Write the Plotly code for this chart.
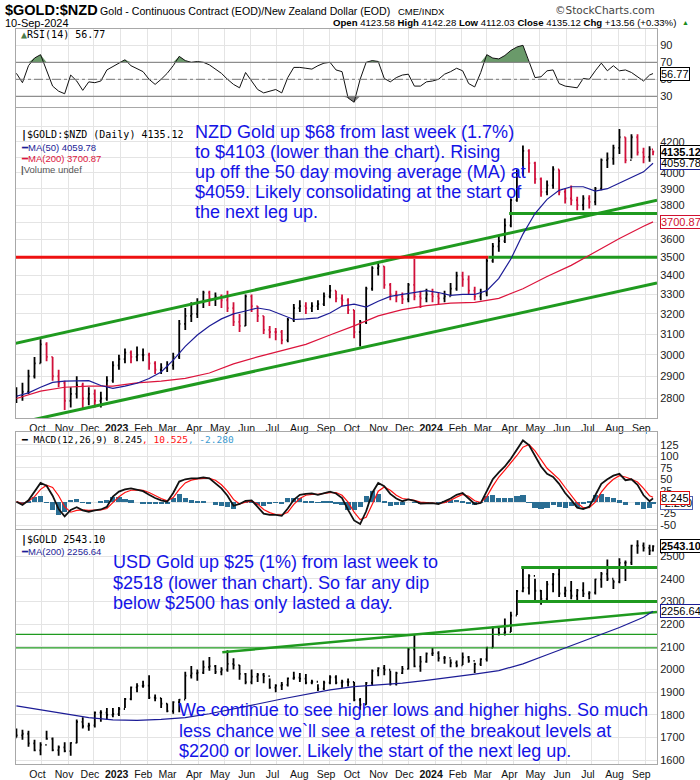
import numpy as np
import pandas as pd
import plotly.graph_objects as go

# ---------------- DATA ----------------
weeks = list(pd.date_range("2022-09-02", periods=106, freq="7D").strftime("%Y-%m-%d")) + ["2024-09-10"]

nzd_close = [2810, 2830, 2900, 2960, 3050, 2990, 2900, 2870, 2790, 2820,
             2860, 2800, 2820, 2790, 2800, 2880, 2950, 2980, 3010, 2990,
             3000, 3000, 2960, 2930, 2940, 2950, 2990, 3150, 3190, 3200,
             3260, 3310, 3280, 3290, 3270, 3230, 3160, 3140, 3290, 3240,
             3190, 3120, 3110, 3110, 3070, 3170, 3230, 3240, 3230, 3240,
             3250, 3290, 3320, 3280, 3270, 3220, 3110, 3160, 3330, 3440,
             3450, 3350, 3300, 3290, 3275, 3350, 3290, 3280, 3300, 3290,
             3280, 3290, 3330, 3400, 3380, 3320, 3290, 3310, 3480, 3560,
             3590, 3680, 3830, 4000, 4140, 4060, 3960, 3880, 3920, 4020,
             3880, 3840, 3830, 3800, 3840, 3820, 3900, 4080, 4090, 4160,
             4230, 4080, 4230, 4130, 4100, 4150, 4135.12]
nzd_high = [2850, 2870, 2930, 2990, 3075, 3060, 2990, 2930, 2880, 2850,
            2900, 2870, 2850, 2840, 2830, 2900, 2970, 3000, 3030, 3020,
            3040, 3030, 3010, 2970, 2960, 2970, 3010, 3170, 3230, 3260,
            3280, 3320, 3320, 3310, 3300, 3320, 3260, 3200, 3300, 3300,
            3240, 3190, 3140, 3130, 3120, 3180, 3250, 3270, 3260, 3260,
            3270, 3310, 3350, 3320, 3300, 3280, 3220, 3170, 3340, 3450,
            3470, 3450, 3360, 3320, 3310, 3360, 3490, 3320, 3330, 3330,
            3310, 3320, 3360, 3420, 3420, 3400, 3340, 3330, 3500, 3580,
            3620, 3720, 3840, 4020, 4175, 4150, 4070, 3970, 3950, 4040,
            4020, 3900, 3920, 3850, 3860, 3860, 3910, 4090, 4130, 4180,
            4285, 4230, 4250, 4250, 4160, 4170, 4142.28]
nzd_low = [2780, 2790, 2820, 2890, 2960, 2970, 2880, 2850, 2750, 2760,
           2800, 2750, 2770, 2760, 2760, 2790, 2870, 2930, 2960, 2960,
           2970, 2970, 2930, 2910, 2910, 2920, 2930, 2980, 3120, 3160,
           3180, 3230, 3240, 3240, 3230, 3210, 3140, 3110, 3140, 3210,
           3160, 3100, 3080, 3070, 3050, 3060, 3160, 3210, 3200, 3210,
           3220, 3240, 3280, 3260, 3240, 3200, 3080, 3040, 3150, 3320,
           3400, 3330, 3270, 3260, 3250, 3260, 3270, 3230, 3260, 3260,
           3250, 3260, 3290, 3320, 3340, 3300, 3270, 3270, 3290, 3470,
           3530, 3580, 3670, 3820, 3980, 4000, 3930, 3850, 3860, 3900,
           3860, 3810, 3800, 3770, 3770, 3780, 3800, 3890, 4030, 4050,
           4120, 4060, 4090, 4110, 4060, 4070, 4112.03]

ma_dates_2w = weeks[0:106:2] + ["2024-09-10"]
nzd_ma50 = [2810, 2825, 2850, 2872, 2878, 2880, 2880, 2858, 2845, 2855,
            2868, 2890, 2920, 2975, 3040, 3095, 3140, 3175, 3200, 3215,
            3230, 3220, 3195, 3172, 3175, 3180, 3205, 3240, 3250, 3235,
            3265, 3290, 3300, 3310, 3320, 3310, 3295, 3300, 3300, 3320,
            3385, 3490, 3630, 3750, 3835, 3890, 3912, 3912, 3885, 3900,
            3935, 3968, 4005, 4059.78]

ma_dates_4w = weeks[0:106:4] + ["2024-09-10"]
nzd_ma200 = [2800, 2833, 2850, 2855, 2855, 2870, 2878, 2890, 2915, 2957,
             2990, 3020, 3050, 3095, 3140, 3190, 3222, 3242, 3255, 3259,
             3280, 3330, 3395, 3455, 3530, 3605, 3675, 3700.87]

rsi14 = [57, 46, 66, 75, 79, 60, 42, 36, 33, 55,
         48, 37, 47, 46, 48, 61, 65, 69, 73, 66,
         62, 59, 50, 44, 50, 57, 66, 77, 72, 70,
         71, 70, 67, 62, 57, 50, 44, 40, 58, 48,
         38, 34, 36, 38, 34, 52, 64, 64, 63, 62,
         66, 69, 70, 61, 59, 28, 23, 50, 70, 72,
         71, 51, 47, 52, 55, 56, 42, 42, 47, 48,
         50, 56, 59, 63, 60, 45, 41, 58, 79, 75,
         74, 78, 84, 88, 90, 70, 52, 53, 60, 61,
         45, 42, 41, 40, 51, 50, 60, 69, 60, 66,
         60, 61, 58, 53, 48, 55, 56.77]

macd_line = [1, -6, 4, 24, 42, 36, 14, -15, -31, -17,
             -11, -18, -21, -18, -16, -10, 12, 23, 28, 30,
             27, 24, 16, 9, 4, 1, 20, 45, 50, 52,
             52, 54, 52, 42, 30, 14, -8, -4, 3, 4,
             -10, -25, -28, -28, -30, -14, 5, 16, 18, 19,
             16, 20, 23, 19, 9, -17, -40, -48, -20, 20,
             42, 35, 18, 8, 2, 6, 3, -3, -2, -2,
             -4, 2, 8, 16, 20, 8, -4, -2, 25, 50,
             65, 78, 95, 115, 135, 125, 100, 78, 62, 55,
             40, 20, 5, -12, -15, -10, 15, 40, 50, 58,
             62, 48, 50, 38, 15, 2, 8.245]
macd_signal = [1, -3, 2, 12, 28, 37, 32, 14, -10, -22,
               -18, -17, -18, -18, -17, -14, 0, 12, 21, 26,
               27, 26, 21, 14, 8, 3, 10, 28, 42, 48,
               51, 52, 52, 48, 38, 24, 6, -4, 0, 2,
               -4, -16, -23, -27, -28, -22, -5, 8, 15, 17,
               17, 19, 21, 21, 15, 0, -22, -38, -33, -5,
               24, 33, 26, 15, 8, 6, 4, 0, -1, -2,
               -3, -1, 4, 11, 17, 13, 3, -1, 12, 35,
               55, 70, 85, 102, 120, 126, 112, 92, 74, 62,
               50, 32, 14, -2, -12, -12, 0, 22, 38, 50,
               58, 55, 50, 44, 30, 14, 10.525]

usd_close = [1710, 1717, 1675, 1644, 1668, 1695, 1645, 1657, 1640, 1677,
             1769, 1750, 1754, 1810, 1810, 1800, 1804, 1826, 1870, 1921,
             1928, 1929, 1876, 1874, 1850, 1817, 1856, 1867, 1973, 1983,
             1986, 2011, 2015, 1990, 1999, 2025, 2019, 1981, 1944, 1969,
             1977, 1971, 1920, 1929, 1932, 1961, 1964, 1960, 1942, 1946,
             1916, 1942, 1966, 1942, 1946, 1945, 1866, 1845, 1941, 1994,
             2006, 1999, 1937, 1984, 2003, 2089, 2014, 2035, 2070, 2072,
             2050, 2051, 2029, 2018, 2054, 2038, 2024, 2046, 2096, 2185,
             2161, 2165, 2238, 2345, 2360, 2413, 2347, 2311, 2375, 2419,
             2335, 2348, 2325, 2349, 2334, 2339, 2397, 2421, 2400, 2386,
             2470, 2471, 2546, 2546, 2536, 2524, 2543.10]
usd_high = [1740, 1735, 1730, 1690, 1680, 1730, 1700, 1665, 1680, 1680,
            1780, 1790, 1765, 1815, 1820, 1830, 1830, 1835, 1875, 1925,
            1940, 1950, 1975, 1890, 1875, 1850, 1860, 1870, 1990, 2015,
            2000, 2040, 2055, 2020, 2010, 2085, 2050, 2020, 1985, 2000,
            1985, 1985, 1960, 1935, 1945, 1965, 1990, 1985, 1980, 1955,
            1935, 1950, 1975, 1975, 1955, 1960, 1945, 1875, 1945, 2000,
            2010, 2020, 1995, 1990, 2015, 2095, 2152, 2060, 2075, 2095,
            2080, 2060, 2045, 2040, 2075, 2060, 2030, 2050, 2100, 2190,
            2185, 2225, 2255, 2350, 2448, 2420, 2400, 2350, 2390, 2425,
            2450, 2365, 2390, 2355, 2385, 2345, 2400, 2430, 2485, 2395,
            2490, 2480, 2550, 2570, 2560, 2550, 2548]
usd_low = [1700, 1690, 1660, 1640, 1622, 1690, 1640, 1620, 1635, 1620,
           1675, 1740, 1730, 1745, 1770, 1780, 1790, 1795, 1830, 1865,
           1900, 1920, 1870, 1860, 1830, 1812, 1805, 1812, 1870, 1960,
           1950, 1980, 1995, 1980, 1975, 1990, 2000, 1955, 1935, 1935,
           1945, 1940, 1915, 1900, 1910, 1925, 1955, 1945, 1935, 1935,
           1905, 1910, 1935, 1935, 1920, 1925, 1860, 1823, 1845, 1930,
           1970, 1975, 1930, 1930, 1980, 2000, 2010, 1990, 2030, 2060,
           2035, 2025, 2010, 2010, 2020, 2030, 1985, 2015, 2035, 2095,
           2150, 2150, 2165, 2240, 2340, 2330, 2300, 2285, 2300, 2340,
           2320, 2320, 2310, 2300, 2320, 2310, 2330, 2360, 2390, 2355,
           2380, 2390, 2460, 2510, 2520, 2505, 2520]
usd_ma200 = [1840, 1822, 1805, 1788, 1778, 1776, 1780, 1788, 1805, 1825,
             1848, 1870, 1890, 1910, 1925, 1932, 1940, 1952, 1965, 1980,
             1995, 2025, 2065, 2105, 2145, 2185, 2230, 2256.64]

# annotation lines drawn on the chart (date, value pairs)
nzd_upper_channel = (["2022-08-14", "2024-09-14 15:00"], [3038, 3830])
nzd_lower_channel = (["2022-08-14", "2024-09-14 15:00"], [2677, 3360])
nzd_red_3500 = (["2022-08-14", "2024-03-03"], [3500, 3500])
nzd_green_3500 = (["2024-03-03", "2024-09-14 15:00"], [3500, 3500])
nzd_green_3750 = (["2024-03-27", "2024-09-14 15:00"], [3750, 3750])
usd_green_2450 = (["2024-04-10", "2024-09-14 15:00"], [2450, 2450])
usd_green_2300 = (["2024-04-06", "2024-09-14 15:00"], [2300, 2300])
usd_green_2155 = (["2022-08-14", "2024-09-14 15:00"], [2155, 2155])
usd_green_2095 = (["2022-08-14", "2024-09-14 15:00"], [2095, 2095])
usd_rising = (["2023-04-29", "2024-09-14 15:00"], [2076, 2253])

month_ticks = list(pd.date_range("2022-10-01", "2024-09-01", freq="MS").strftime("%Y-%m-%d"))
month_labels = ["Oct", "Nov", "Dec", "<b>2023</b>", "Feb", "Mar", "Apr", "May", "Jun", "Jul", "Aug", "Sep",
                "Oct", "Nov", "Dec", "<b>2024</b>", "Feb", "Mar", "Apr", "May", "Jun", "Jul", "Aug", "Sep"]

rsi_ticks = [30, 50, 70, 90]
nzd_ticks = list(range(2800, 4400, 100))
nzd_tick_text = ["" if v in (3700, 4100, 4300) else str(v) for v in nzd_ticks]
macd_ticks = [-50, -25, 0, 25, 50, 75, 100, 125]
macd_tick_text = ["" if v == 0 else str(v) for v in macd_ticks]
usd_ticks = list(range(1600, 2600, 100))

nzd_note = ["NZD Gold up $68 from last week (1.7%)",
            "to $4103 (lower than the chart). Rising",
            "up off the 50 day moving average (MA) at",
            "$4059. Likely consolidating at the start of",
            "the next leg up."]
usd_note = ["USD Gold up $25 (1%) from last week to",
            "$2518 (lower than chart). So far any dip",
            "below $2500 has only lasted a day."]
usd_note2 = ["We continue to see higher lows and higher highs. So much",
             "less chance we`ll see a retest of the breakout levels at",
             "$2200 or lower. Likely the start of the next leg up."]

# ---------------- FIGURE ----------------
W, H = 700, 780
ML, MR, MT, MB = 16, 43, 0, 16
PH = H - MT - MB
PW = W - ML - MR
X_RANGE = ["2022-09-01 12:00", "2024-09-14 15:00"]

GRID = "#e4e4e4"
BORDER = "#a8a8a8"
MONO = "DejaVu Sans Mono, monospace"
SANS = "Liberation Sans, Arial, sans-serif"
TXT_BLUE = "#1414e6"
GREEN = "#1f9a1f"
RED_BAR = "#d0103a"
MA_BLUE = "#1c1c96"
MA_RED = "#dc143c"


def py(p):
    return (H - MB - p) / PH


def px(p):
    return (p - ML) / PW


def dom(top, bot):
    return [py(bot), py(top)]


n = len(weeks)
nzd_open = [2800] + nzd_close[:-1]
usd_open = [1700] + usd_close[:-1]
rsi_arr = np.array(rsi14, dtype=float)
macd_hist = (np.array(macd_line) - np.array(macd_signal)).tolist()

fig = go.Figure()

# RSI panel
fig.add_trace(go.Scatter(x=weeks, y=[70] * n, mode="lines", line=dict(width=0), xaxis="x", yaxis="y", hoverinfo="skip"))
fig.add_trace(go.Scatter(x=weeks, y=np.maximum(rsi_arr, 70), mode="lines", line=dict(width=0),
                         fill="tonexty", fillcolor="#6a9a6a", xaxis="x", yaxis="y", hoverinfo="skip"))
fig.add_trace(go.Scatter(x=weeks, y=[30] * n, mode="lines", line=dict(width=0), xaxis="x", yaxis="y", hoverinfo="skip"))
fig.add_trace(go.Scatter(x=weeks, y=np.minimum(rsi_arr, 30), mode="lines", line=dict(width=0),
                         fill="tonexty", fillcolor="#808080", xaxis="x", yaxis="y", hoverinfo="skip"))
fig.add_trace(go.Scatter(x=weeks, y=rsi14, mode="lines", line=dict(color="#111", width=1), xaxis="x", yaxis="y"))

# Main NZD panel
for (xs, ys), col, wd in [(nzd_upper_channel, GREEN, 3), (nzd_lower_channel, GREEN, 3),
                          (nzd_red_3500, "#ee1111", 3), (nzd_green_3500, GREEN, 3),
                          (nzd_green_3750, GREEN, 3)]:
    fig.add_trace(go.Scatter(x=xs, y=ys, mode="lines", line=dict(color=col, width=wd), xaxis="x2", yaxis="y2"))
fig.add_trace(go.Scatter(x=ma_dates_4w, y=nzd_ma200, mode="lines", line=dict(color=MA_RED, width=1.2), xaxis="x2", yaxis="y2"))
fig.add_trace(go.Scatter(x=ma_dates_2w, y=nzd_ma50, mode="lines", line=dict(color=MA_BLUE, width=1.2), xaxis="x2", yaxis="y2"))
fig.add_trace(go.Ohlc(x=weeks, open=nzd_open, high=nzd_high, low=nzd_low, close=nzd_close,
                      increasing=dict(line=dict(color="#000000", width=1.8)),
                      decreasing=dict(line=dict(color=RED_BAR, width=1.8)),
                      tickwidth=0.35, xaxis="x2", yaxis="y2"))

# MACD panel
fig.add_trace(go.Bar(x=weeks, y=macd_hist, marker=dict(color="#2a6e94", line=dict(width=0)),
                     width=6 * 86400000, xaxis="x3", yaxis="y3"))
fig.add_trace(go.Scatter(x=weeks, y=macd_signal, mode="lines", line=dict(color="#ff1010", width=1.2), xaxis="x3", yaxis="y3"))
fig.add_trace(go.Scatter(x=weeks, y=macd_line, mode="lines", line=dict(color="#111", width=1.8), xaxis="x3", yaxis="y3"))

# USD panel
for (xs, ys), col, wd in [(usd_green_2450, GREEN, 3), (usd_green_2300, GREEN, 3),
                          (usd_green_2155, GREEN, 1.2), (usd_green_2095, GREEN, 1.2),
                          (usd_rising, GREEN, 2.5)]:
    fig.add_trace(go.Scatter(x=xs, y=ys, mode="lines", line=dict(color=col, width=wd), xaxis="x4", yaxis="y4"))
fig.add_trace(go.Scatter(x=ma_dates_4w, y=usd_ma200, mode="lines", line=dict(color=MA_BLUE, width=1.2), xaxis="x4", yaxis="y4"))
fig.add_trace(go.Ohlc(x=weeks, open=usd_open, high=usd_high, low=usd_low, close=usd_close,
                      increasing=dict(line=dict(color="#000000", width=1.8)),
                      decreasing=dict(line=dict(color="#000000", width=1.8)),
                      tickwidth=0.35, xaxis="x4", yaxis="y4"))

xcommon = dict(type="date", range=X_RANGE, showgrid=True, gridcolor=GRID, gridwidth=1,
               tickvals=month_ticks, ticktext=month_labels, showline=True, mirror=True,
               linecolor=BORDER, linewidth=1, ticks="", zeroline=False,
               rangeslider=dict(visible=False), ticklabelshift=-4,
               tickfont=dict(family=SANS, size=10.5, color="#111"))
ycommon = dict(side="right", showgrid=True, gridcolor=GRID, gridwidth=1, showline=True, mirror=True,
               linecolor=BORDER, linewidth=1, ticks="", zeroline=False,
               tickfont=dict(family=SANS, size=11, color="#222"))

fig.update_layout(
    width=W, height=H, margin=dict(l=ML, r=MR, t=MT, b=MB),
    paper_bgcolor="white", plot_bgcolor="white", showlegend=False, bargap=0,
    xaxis=dict(xcommon, anchor="y", domain=[0, 1], showticklabels=False),
    xaxis2=dict(xcommon, anchor="y2", domain=[0, 1], matches="x", showticklabels=True),
    xaxis3=dict(xcommon, anchor="y3", domain=[0, 1], matches="x", showticklabels=False),
    xaxis4=dict(xcommon, anchor="y4", domain=[0, 1], matches="x", showticklabels=True),
    yaxis=dict(ycommon, anchor="x", domain=dom(29, 107), range=[17.4, 109.2], tickvals=rsi_ticks),
    yaxis2=dict(ycommon, anchor="x2", domain=dom(108, 418), type="log",
                range=[np.log10(2715), np.log10(4430)], tickvals=nzd_ticks, ticktext=nzd_tick_text),
    yaxis3=dict(ycommon, anchor="x3", domain=dom(432, 529), range=[-58.75, 153.4],
                tickvals=macd_ticks, ticktext=macd_tick_text),
    yaxis4=dict(ycommon, anchor="x4", domain=dom(530, 764), range=[1583.7, 2614.7],
                tickvals=usd_ticks),
)

# RSI reference levels
fig.add_shape(type="line", xref="x domain", x0=0, x1=1, yref="y", y0=70, y1=70, line=dict(color="#777", width=1))
fig.add_shape(type="line", xref="x domain", x0=0, x1=1, yref="y", y0=30, y1=30, line=dict(color="#777", width=1))
fig.add_shape(type="line", xref="x domain", x0=0, x1=1, yref="y", y0=50, y1=50, line=dict(color="#777", width=1, dash="dashdot"))

# ---------- text ----------
def ann(x, y, text, size, family=SANS, color="#000", xanchor="left", yanchor="middle", **kw):
    fig.add_annotation(xref="paper", yref="paper", x=px(x), y=py(y), text=text, showarrow=False,
                       xanchor=xanchor, yanchor=yanchor, align="left",
                       font=dict(family=family, size=size, color=color), **kw)


ann(3, 10, "<b>$GOLD:$NZD</b>", 14.5, SANS)
ann(98, 10.5, "Gold - Continuous Contract (EOD)/New Zealand Dollar (EOD)", 10.6, SANS)
ann(396, 11, "CME/INDX", 9.5, SANS)
ann(657, 10, "©StockCharts.com", 10.5, "DejaVu Sans", "#444", xanchor="right")
ann(3, 23, "10-Sep-2024", 11, SANS)
ann(678, 23, "<b>Open</b> 4123.58 <b>High</b> 4142.28 <b>Low</b> 4112.03 <b>Close</b> 4135.12 <b>Chg</b> +13.56 (+0.33%)",
    9.6, SANS, xanchor="right")
ann(680, 23, "▲", 7, SANS, "#1a8a1a")

# panel legends
ann(19, 35, "<span style='color:#4a7a4a'>▲</span>RSI(14) 56.77", 10, MONO)
ann(19, 135, "<b>|</b>$GOLD:$NZD (Daily) 4135.12", 10, MONO)
ann(19, 147, "<span style='color:#1c1c96'>━</span>MA(50) 4059.78", 9.5, SANS, MA_BLUE)
ann(19, 158, "<span style='color:#dc143c'>━</span>MA(200) 3700.87", 9.5, SANS, MA_RED)
ann(19, 169, "<b>|</b>Volume undef", 9.5, SANS, "#555")
ann(19, 439, "━ MACD(12,26,9) 8.245<span style='color:#ff1010'>, 10.525</span><span style='color:#3a9ad0'>, -2.280</span>", 9.5, MONO)
ann(19, 540, "<b>|</b>$GOLD 2543.10", 10, MONO)
ann(19, 551, "<span style='color:#1c1c96'>━</span>MA(200) 2256.64", 9.5, SANS, MA_BLUE)

# comment text blocks, one annotation per line (20 px line pitch)
for i, line in enumerate(nzd_note):
    ann(193, 132 + 20 * i, line, 18, SANS, TXT_BLUE)
for i, line in enumerate(usd_note):
    ann(111, 562 + 20.5 * i, line, 18, SANS, TXT_BLUE)
for i, line in enumerate(usd_note2):
    ann(177, 710 + 20.5 * i, line, 18, SANS, TXT_BLUE)

# value tags on the right axis
def tag(text, yval, yref, color, textcolor=None, bold=False):
    t = f"<b>{text}</b>" if bold else text
    fig.add_annotation(xref="paper", x=1, xanchor="left", xshift=3, yref=yref, y=yval, yanchor="middle",
                       text=t, showarrow=False, font=dict(family=SANS, size=11, color=textcolor or color),
                       bordercolor=color, borderwidth=1, borderpad=0, bgcolor="white")


tag("56.77", 56.77, "y", "#000")
tag("3700.87", np.log10(3700.87), "y2", "#d01030")
tag("4059.78", np.log10(4059.78), "y2", "#1c1c96", textcolor="#000")
tag("4135.12", np.log10(4135.12), "y2", "#000", bold=True)
tag("-2.280", -2.28, "y3", "#5060b0", textcolor="#000")
tag("8.245", 8.245, "y3", "#e01010", textcolor="#000")
tag("2256.64", 2256.64, "y4", "#1c1c96", textcolor="#000")
tag("2543.10", 2543.10, "y4", "#000", bold=True)

fig.write_html("out.html", include_plotlyjs=True)
